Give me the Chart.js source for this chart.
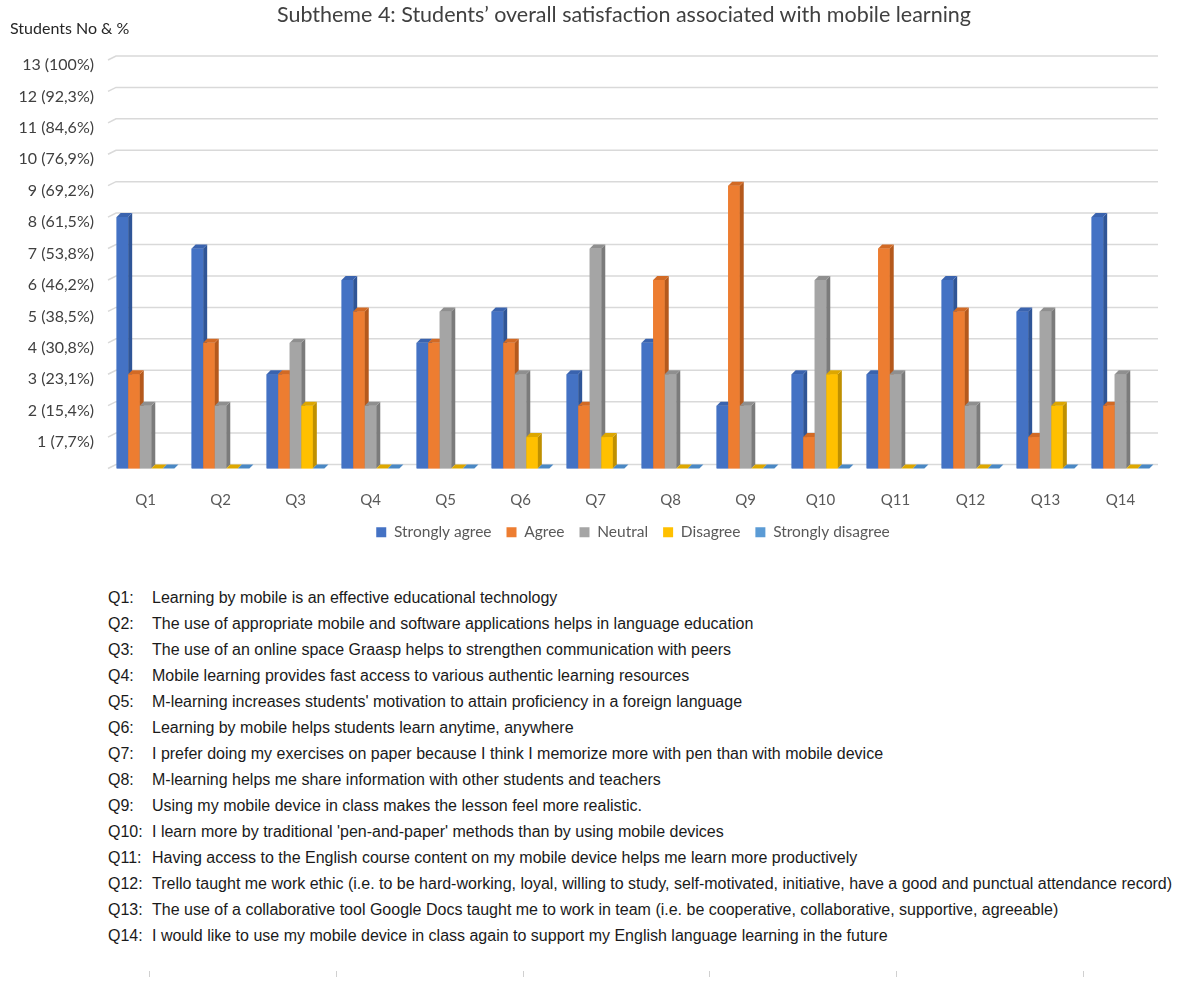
<!DOCTYPE html>
<html>
<head>
<meta charset="utf-8">
<script src="https://cdn.jsdelivr.net/npm/chart.js@4"></script>
<style>
  body { margin: 0; background: #fff; }
  #wrap { position: relative; width: 1190px; height: 983px; }
  #title { position: absolute; top: 1px; left: 0; width: 1248px; text-align: center;
           font: 21.5px Lato, sans-serif; color: #404040; }
  #ylab { position: absolute; top: 18px; left: 10px; font: 16px Lato, sans-serif; color: #262626; }
  #cv { position: absolute; top: 0; left: 0; }
  #notes { position: absolute; top: 585px; left: 108px; font: 16px "Liberation Sans", Arial, sans-serif; color: #1a1a1a; }
  #notes div { height: 26px; line-height: 26px; white-space: nowrap; }
  #notes b { font-weight: normal; display: inline-block; width: 44px; }
  .tk { position: absolute; top: 971px; width: 1px; height: 6px; background: #d0d0d0; }
</style>
</head>
<body>
<div id="wrap">
  <canvas id="cv" width="1190" height="560"></canvas>
  <div id="title">Subtheme 4: Students’ overall satisfaction associated with mobile learning</div>
  <div id="ylab">Students No &amp; %</div>
  <div id="notes"></div>
</div>
<script>
var questions = ['Q1', 'Q2', 'Q3', 'Q4', 'Q5', 'Q6', 'Q7', 'Q8', 'Q9', 'Q10', 'Q11', 'Q12', 'Q13', 'Q14'];
var stronglyAgree    = [8, 7, 3, 6, 4, 5, 3, 4, 2, 3, 3, 6, 5, 8];
var agree            = [3, 4, 3, 5, 4, 4, 2, 6, 9, 1, 7, 5, 1, 2];
var neutral          = [2, 2, 4, 2, 5, 3, 7, 3, 2, 6, 3, 2, 5, 3];
var disagree         = [0, 0, 2, 0, 0, 1, 1, 0, 0, 3, 0, 0, 2, 0];
var stronglyDisagree = [0, 0, 0, 0, 0, 0, 0, 0, 0, 0, 0, 0, 0, 0];
var yTickLabels = ['', '1 (7,7%)', '2 (15,4%)', '3 (23,1%)', '4 (30,8%)', '5 (38,5%)', '6 (46,2%)',
                   '7 (53,8%)', '8 (61,5%)', '9 (69,2%)', '10 (76,9%)', '11 (84,6%)', '12 (92,3%)', '13 (100%)'];
var questionTexts = [
  'Learning by mobile is an effective educational technology',
  'The use of appropriate mobile and software applications helps in language education',
  'The use of an online space Graasp helps to strengthen communication with peers',
  'Mobile learning provides fast access to various authentic learning resources',
  "M-learning increases students' motivation to attain proficiency in a foreign language",
  'Learning by mobile helps students learn anytime, anywhere',
  'I prefer doing my exercises on paper because I think I memorize more with pen than with mobile device',
  'M-learning helps me share information with other students and teachers',
  'Using my mobile device in class makes the lesson feel more realistic.',
  "I learn more by traditional 'pen-and-paper' methods than by using mobile devices",
  'Having access to the English course content on my mobile device helps me learn more productively',
  'Trello taught me work ethic (i.e. to be hard-working, loyal, willing to study, self-motivated, initiative, have a good and punctual attendance record)',
  'The use of a collaborative tool Google Docs taught me to work in team (i.e. be cooperative, collaborative, supportive, agreeable)',
  'I would like to use my mobile device in class again to support my English language learning in the future'
];

var notes = document.getElementById('notes');
questions.forEach(function (q, i) {
  var d = document.createElement('div');
  var b = document.createElement('b');
  b.textContent = q + ':';
  d.appendChild(b);
  d.appendChild(document.createTextNode(questionTexts[i]));
  notes.appendChild(d);
});
[149, 336, 523, 709, 896, 1083].forEach(function (x) {
  var t = document.createElement('div');
  t.className = 'tk';
  t.style.left = x + 'px';
  document.getElementById('wrap').appendChild(t);
});

var depth = 4;
var sideColors = ['#2F5597', '#B5591C', '#7B7B7B', '#BF9000', '#2E75B6'];
var topColors  = ['#3A63AE', '#D26A25', '#8F8F8F', '#DDA700', '#4A88C4'];

// fake Excel 3D look: slanted grid starts and bars with side/top faces
var bars3d = {
  id: 'bars3d',
  beforeDatasetsDraw: function (chart) {
    var ctx = chart.ctx, a = chart.chartArea, ys = chart.scales.y;
    ctx.save();
    ctx.strokeStyle = '#d9d9d9';
    ctx.lineWidth = 1.5;
    for (var v = 0; v <= 13; v++) {
      var y = ys.getPixelForValue(v);
      ctx.beginPath();
      ctx.moveTo(a.left, y);
      ctx.lineTo(a.left + depth * 2, y - depth);
      ctx.lineTo(a.right, y - depth);
      ctx.stroke();
    }
    ctx.restore();
  },
  afterDatasetsDraw: function (chart) {
    var ctx = chart.ctx;
    ctx.save();
    chart.data.datasets.forEach(function (ds, i) {
      var meta = chart.getDatasetMeta(i);
      meta.data.forEach(function (bar) {
        var p = bar.getProps(['x', 'y', 'base', 'width'], true);
        var l = p.x - p.width / 2, r = p.x + p.width / 2;
        ctx.fillStyle = ds.backgroundColor;
        ctx.fillRect(l, p.y, r - l, p.base - p.y);
        ctx.fillStyle = sideColors[i];
        ctx.beginPath();
        ctx.moveTo(r, p.y); ctx.lineTo(r + depth, p.y - depth);
        ctx.lineTo(r + depth, p.base - depth); ctx.lineTo(r, p.base);
        ctx.closePath(); ctx.fill();
        ctx.fillStyle = topColors[i];
        ctx.beginPath();
        ctx.moveTo(l, p.y); ctx.lineTo(l + depth, p.y - depth);
        ctx.lineTo(r + depth, p.y - depth); ctx.lineTo(r, p.y);
        ctx.closePath(); ctx.fill();
      });
    });
    ctx.restore();
  }
};

new Chart(document.getElementById('cv'), {
  type: 'bar',
  data: {
    labels: questions,
    datasets: [
      { label: 'Strongly agree', data: stronglyAgree, backgroundColor: '#4472C4' },
      { label: 'Agree', data: agree, backgroundColor: '#ED7D31' },
      { label: 'Neutral', data: neutral, backgroundColor: '#A5A5A5' },
      { label: 'Disagree', data: disagree, backgroundColor: '#FFC000' },
      { label: 'Strongly disagree', data: stronglyDisagree, backgroundColor: '#5B9BD5' }
    ]
  },
  options: {
    responsive: false,
    animation: false,
    events: [],
    categoryPercentage: 0.77,
    barPercentage: 1,
    layout: { padding: { top: 60, left: 5, right: 32, bottom: 10 } },
    plugins: {
      legend: {
        position: 'bottom',
        fullSize: false,
        labels: { boxWidth: 10, boxHeight: 10, padding: 15, color: '#595959', font: { family: 'Lato', size: 15.5 } }
      },
      tooltip: { enabled: false }
    },
    scales: {
      x: {
        afterFit: function (s) { s.height = 41; },
        grid: { display: false },
        border: { display: false },
        ticks: { padding: 15, color: '#595959', font: { family: 'Lato', size: 15 } }
      },
      y: {
        min: 0, max: 13,
        afterFit: function (s) { s.width = 103; },
        grid: { display: false },
        border: { display: false },
        ticks: {
          stepSize: 1, padding: 6, labelOffset: 5, color: '#404040',
          font: { family: 'Lato', size: 16 },
          callback: function (v) { return yTickLabels[v]; }
        }
      }
    }
  },
  plugins: [bars3d]
});
</script>
</body>
</html>
